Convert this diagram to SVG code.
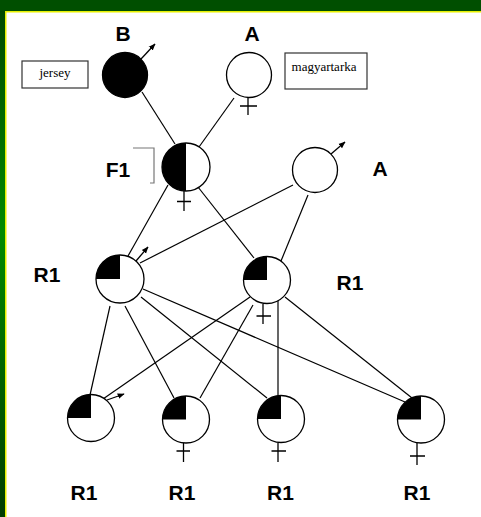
<svg xmlns="http://www.w3.org/2000/svg" width="481" height="517" viewBox="0 0 481 517">
  <defs>
    <linearGradient id="sideBand" x1="0" y1="0" x2="0" y2="1">
      <stop offset="0" stop-color="#004600"/>
      <stop offset="0.45" stop-color="#008a00"/>
      <stop offset="1" stop-color="#003c00"/>
    </linearGradient>
    <marker id="arrow" viewBox="0 0 10 10" refX="9" refY="5" markerWidth="7" markerHeight="7" orient="auto" markerUnits="userSpaceOnUse">
      <path d="M0,1 L10,5 L0,9 Z" fill="#000"/>
    </marker>
    <style>
      .edge { stroke: #000; stroke-width: 1.2; fill: none; }
      .ring { fill: #fff; stroke: #000; stroke-width: 1.3; }
      .shade { fill: #000; }
      .sym { stroke: #000; stroke-width: 1.3; fill: none; }
      .male { stroke: #000; stroke-width: 1.3; fill: none; marker-end: url(#arrow); }
      .lbl { font-family: "Liberation Sans", Arial, sans-serif; font-weight: bold; font-size: 21px; fill: #000; text-anchor: middle; }
      .tag { font-family: "Liberation Serif", "Times New Roman", serif; font-size: 13px; fill: #000; text-anchor: middle; }
      .box { fill: #fff; stroke: #333; stroke-width: 1.2; }
    </style>
  </defs>

  <!-- page frame -->
  <rect x="0" y="0" width="481" height="517" fill="#fff"/>
  <rect x="0" y="0" width="5" height="517" fill="url(#sideBand)"/>
  <rect x="0" y="0" width="481" height="11" fill="#004f00"/>
  <rect x="5" y="11" width="476" height="1.5" fill="#e6f000"/>
  <rect x="5" y="11" width="1.5" height="506" fill="#e6f000"/>

  <!-- connectors -->
  <g id="connectors">
    <line class="edge" x1="142" y1="92" x2="175" y2="144"/>
    <line class="edge" x1="234" y1="98" x2="199" y2="147"/>
    <line class="edge" x1="168" y1="185" x2="128" y2="256"/>
    <line class="edge" x1="198" y1="187" x2="254" y2="258"/>
    <line class="edge" x1="293" y1="185" x2="140" y2="263"/>
    <line class="edge" x1="308" y1="195" x2="281" y2="261"/>
    <line class="edge" x1="110" y1="306" x2="90" y2="395"/>
    <line class="edge" x1="125" y1="306" x2="174" y2="398"/>
    <line class="edge" x1="141" y1="297" x2="267" y2="398"/>
    <line class="edge" x1="143" y1="289" x2="405" y2="402"/>
    <line class="edge" x1="250" y1="297" x2="103" y2="399"/>
    <line class="edge" x1="253" y1="305" x2="200" y2="398"/>
    <line class="edge" x1="278" y1="298" x2="278" y2="396"/>
    <line class="edge" x1="285" y1="297" x2="412" y2="398"/>
  </g>

  <!-- breed name boxes -->
  <g id="jersey">
    <rect class="box" x="22" y="61" width="66" height="27"/>
    <text class="tag" x="55" y="77">jersey</text>
  </g>
  <g id="magyartarka">
    <rect class="box" x="285" y="53" width="82" height="36"/>
    <text class="tag" x="324" y="71" font-size="12.5">magyartarka</text>
  </g>

  <!-- parent B: male, solid -->
  <g id="parentB">
    <text class="lbl" x="123" y="41" font-size="20">B</text>
    <circle cx="125" cy="75" r="22.5" fill="#000" stroke="#000" stroke-width="1.3"/>
    <line class="male" x1="141" y1="59" x2="155" y2="44"/>
  </g>

  <!-- parent A: female, open -->
  <g id="parentA">
    <text class="lbl" x="252" y="41" font-size="20">A</text>
    <circle class="ring" cx="249" cy="75" r="22.5"/>
    <path class="sym" d="M248,98 V115 M240,106 H257"/>
  </g>

  <!-- F1 female, half shaded -->
  <g id="f1">
    <text class="lbl" x="118" y="177">F1</text>
    <path d="M133,148 H154 V183 H150" fill="none" stroke="#777" stroke-width="1.2"/>
    <circle class="ring" cx="186" cy="167" r="24"/>
    <path class="shade" d="M186,143 A24,24 0 0 0 186,191 Z"/>
    <path class="sym" d="M184,191 V211 M177,201.5 H191"/>
  </g>

  <!-- backcross sire A: male, open -->
  <g id="sireA">
    <text class="lbl" x="380" y="176">A</text>
    <circle class="ring" cx="315" cy="170" r="22.5"/>
    <line class="male" x1="331" y1="154" x2="345" y2="142"/>
  </g>

  <!-- R1 generation -->
  <g id="r1-male">
    <text class="lbl" x="47" y="282">R1</text>
    <circle class="ring" cx="120" cy="279" r="24"/>
    <path class="shade" d="M120,279 H96 A24,24 0 0 1 120,255 Z"/>
    <line class="male" x1="136" y1="261" x2="148" y2="247"/>
  </g>
  <g id="r1-female">
    <text class="lbl" x="350" y="290">R1</text>
    <circle class="ring" cx="267" cy="280" r="23.5"/>
    <path class="shade" d="M267,280 H243.5 A23.5,23.5 0 0 1 267,256.5 Z"/>
    <path class="sym" d="M263,304 V324 M256.5,316 H271"/>
  </g>

  <!-- second R1 generation -->
  <g id="r1-b1">
    <circle class="ring" cx="91" cy="418" r="23.5"/>
    <path class="shade" d="M91,418 H67.5 A23.5,23.5 0 0 1 91,394.5 Z"/>
    <line class="male" x1="107" y1="400" x2="124" y2="394"/>
    <text class="lbl" x="84" y="500">R1</text>
  </g>
  <g id="r1-b2">
    <circle class="ring" cx="186" cy="419.5" r="23.5"/>
    <path class="shade" d="M186,419.5 H162.5 A23.5,23.5 0 0 1 186,396 Z"/>
    <path class="sym" d="M183.5,443 V462 M176.5,451 H190"/>
    <text class="lbl" x="182" y="500">R1</text>
  </g>
  <g id="r1-b3">
    <circle class="ring" cx="281" cy="419" r="23.5"/>
    <path class="shade" d="M281,419 H257.5 A23.5,23.5 0 0 1 281,395.5 Z"/>
    <path class="sym" d="M278,443 V462 M271.5,451 H286"/>
    <text class="lbl" x="280.5" y="500">R1</text>
  </g>
  <g id="r1-b4">
    <circle class="ring" cx="421" cy="419.5" r="23.5"/>
    <path class="shade" d="M421,419.5 H397.5 A23.5,23.5 0 0 1 421,396 Z"/>
    <path class="sym" d="M417,443 V465 M410,456 H425"/>
    <text class="lbl" x="417" y="500">R1</text>
  </g>
</svg>
